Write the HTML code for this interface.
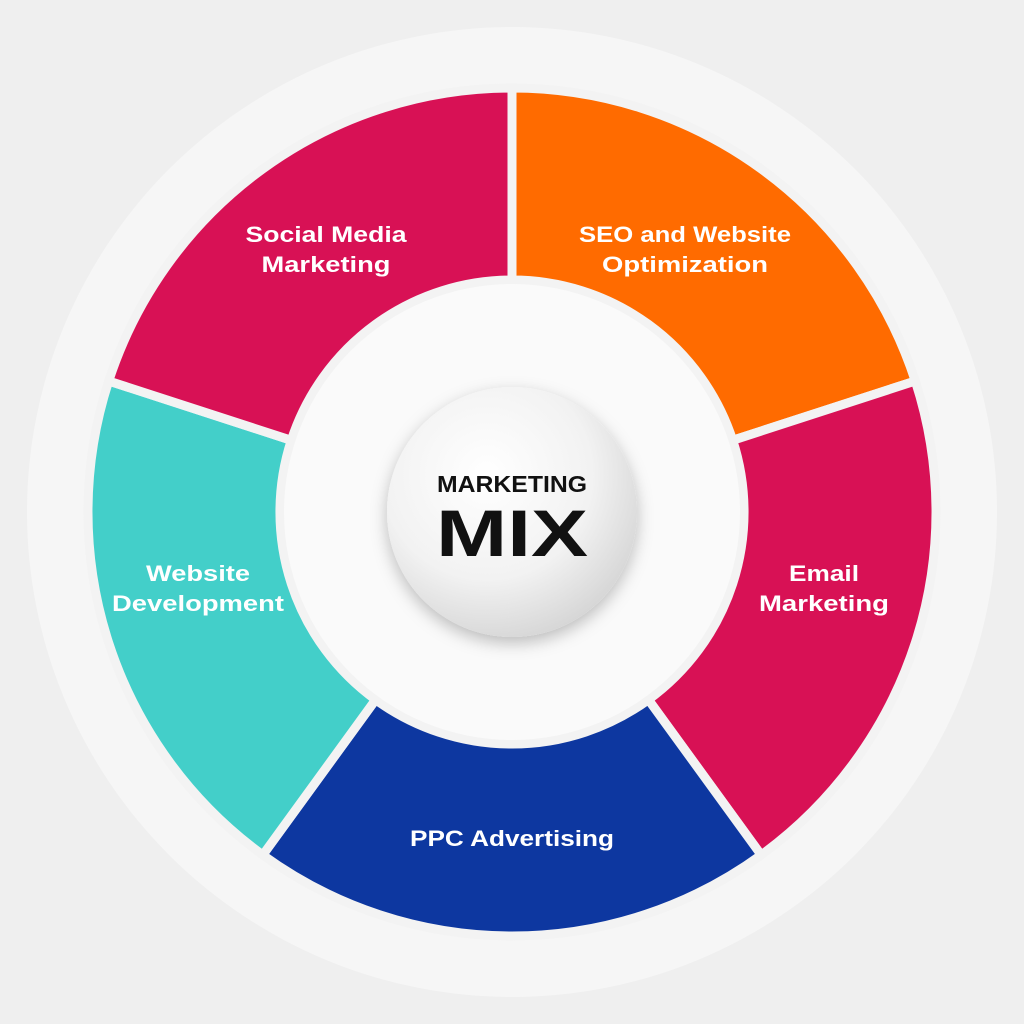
<!DOCTYPE html>
<html><head><meta charset="utf-8"><style>
html,body{margin:0;padding:0;background:#efefef;}
svg{display:block}
text{font-family:"Liberation Sans",sans-serif;font-weight:bold;}
</style></head><body>
<svg width="1024" height="1024" viewBox="0 0 1024 1024">
<defs>
<radialGradient id="cg" cx="40%" cy="35%" r="70%">
<stop offset="0" stop-color="#ffffff"/><stop offset="0.6" stop-color="#f2f2f2"/><stop offset="1" stop-color="#d4d4d4"/>
</radialGradient>
<filter id="sh" x="-30%" y="-30%" width="160%" height="160%"><feDropShadow dx="0" dy="6" stdDeviation="8" flood-color="#000" flood-opacity="0.25"/></filter>
</defs>
<rect width="1024" height="1024" fill="#efefef"/>
<circle cx="512" cy="512" r="485" fill="#f6f6f6"/>
<g stroke="#f3f3f3" stroke-width="9" stroke-linejoin="miter">
<path d="M512,88 A424,424 0 0 1 915.3,381 L732.7,440.3 A232,232 0 0 0 512,280 Z" fill="#ff6b00"/>
<path d="M915.3,381 A424,424 0 0 1 761.2,855 L648.4,699.7 A232,232 0 0 0 732.7,440.3 Z" fill="#d81155"/>
<path d="M761.2,855 A424,424 0 0 1 262.8,855 L375.6,699.7 A232,232 0 0 0 648.4,699.7 Z" fill="#0d37a0"/>
<path d="M262.8,855 A424,424 0 0 1 108.7,381 L291.3,440.3 A232,232 0 0 0 375.6,699.7 Z" fill="#43cfc9"/>
<path d="M108.7,381 A424,424 0 0 1 512,88 L512,280 A232,232 0 0 0 291.3,440.3 Z" fill="#d81155"/>
</g>
<circle cx="512" cy="512" r="228" fill="#fafafa"/>
<circle cx="512" cy="512" r="125" fill="url(#cg)" filter="url(#sh)"/>
<g fill="#fff" font-size="22" text-anchor="middle" lengthAdjust="spacingAndGlyphs">
<text x="326" y="242" textLength="161" lengthAdjust="spacingAndGlyphs">Social Media</text><text x="326" y="272" textLength="129" lengthAdjust="spacingAndGlyphs">Marketing</text>
<text x="685" y="242" textLength="212" lengthAdjust="spacingAndGlyphs">SEO and Website</text><text x="685" y="272" textLength="166" lengthAdjust="spacingAndGlyphs">Optimization</text>
<text x="198" y="581" textLength="104" lengthAdjust="spacingAndGlyphs">Website</text><text x="198" y="611" textLength="172" lengthAdjust="spacingAndGlyphs">Development</text>
<text x="824" y="581" textLength="70" lengthAdjust="spacingAndGlyphs">Email</text><text x="824" y="611" textLength="130" lengthAdjust="spacingAndGlyphs">Marketing</text>
<text x="512" y="846" textLength="204" lengthAdjust="spacingAndGlyphs">PPC Advertising</text>
</g>
<text x="512" y="492" font-size="23" text-anchor="middle" fill="#111" font-weight="900" textLength="150" lengthAdjust="spacingAndGlyphs">MARKETING</text>
<text x="512" y="556" font-size="66" text-anchor="middle" fill="#111" font-weight="900" textLength="152" lengthAdjust="spacingAndGlyphs">MIX</text>
</svg>
</body></html>
